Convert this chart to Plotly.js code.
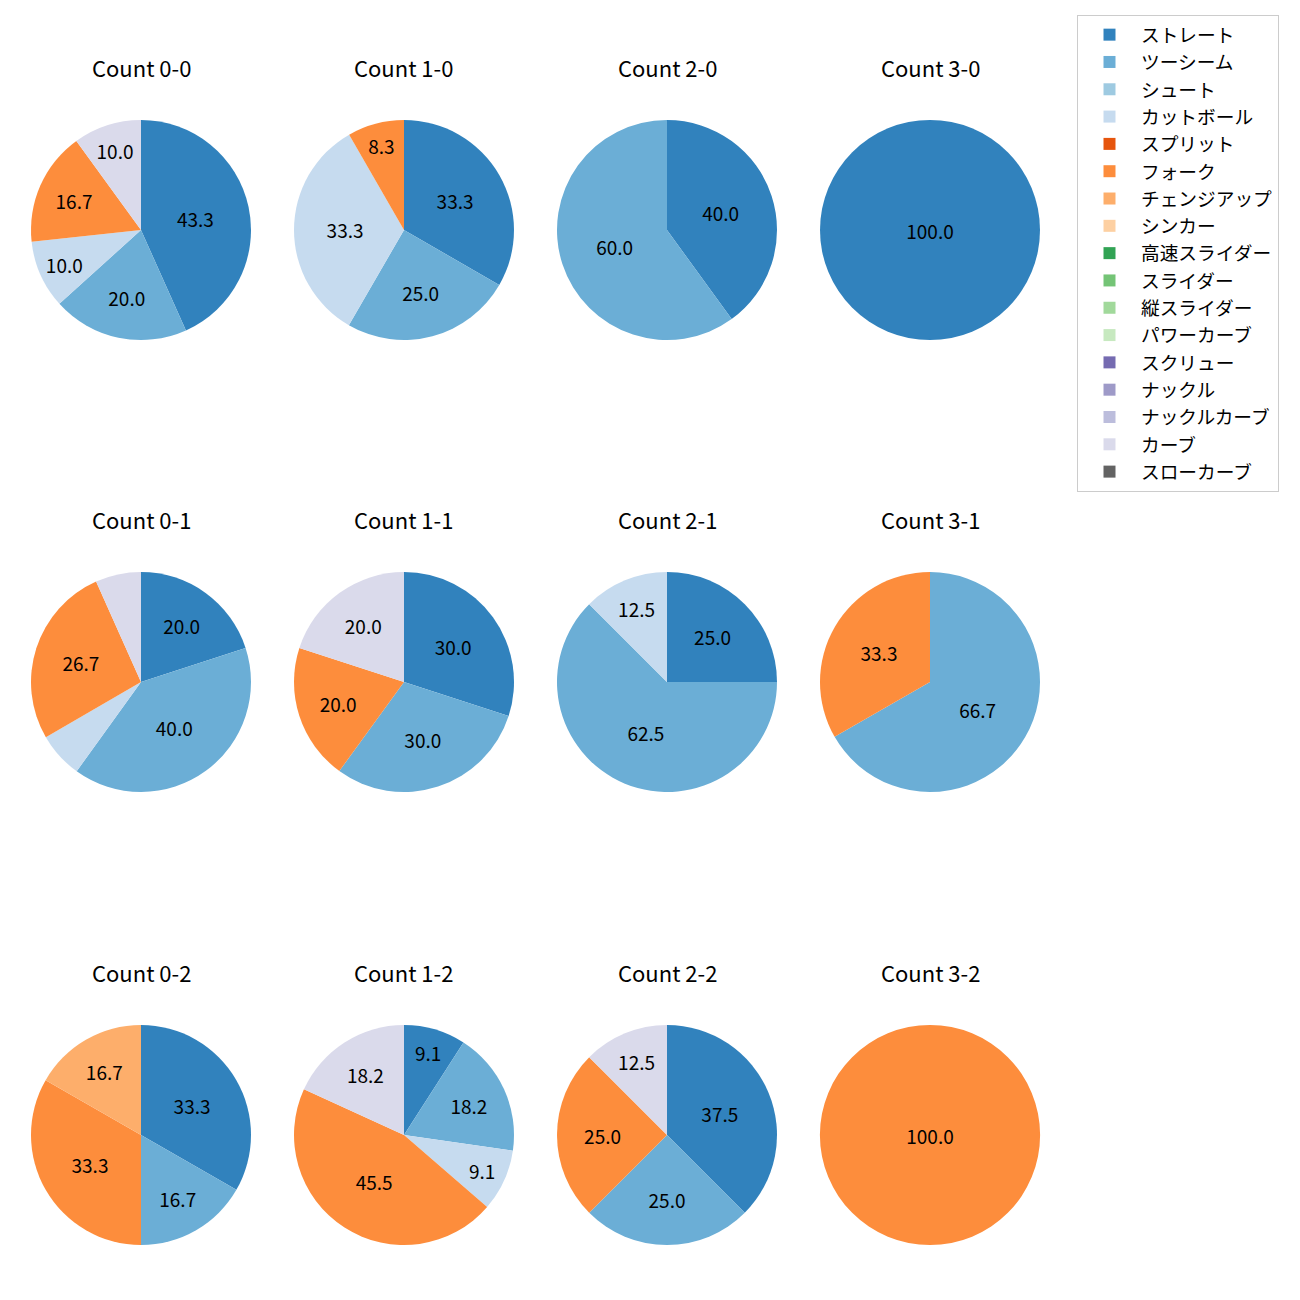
<!DOCTYPE html>
<html>
<head>
<meta charset="utf-8">
<script src="https://cdn.plot.ly/plotly-3.0.1.min.js"></script>
<style>html,body{margin:0;padding:0;background:#fff;}#chart{width:1300px;height:1300px;}</style>
</head>
<body>
<div id="chart"></div>
<script>
// Pitch types (legend order)
const pitchTypes = ['ストレート','ツーシーム','シュート','カットボール','スプリット','フォーク','チェンジアップ','シンカー','高速スライダー','スライダー','縦スライダー','パワーカーブ','スクリュー','ナックル','ナックルカーブ','カーブ','スローカーブ'];
const pitchColors = ['#3182bd','#6baed6','#9ecae1','#c6dbef','#e6550d','#fd8d3c','#fdae6b','#fdd0a2','#31a354','#74c476','#a1d99b','#c7e9c0','#756bb1','#9e9ac8','#bcbddc','#dadaeb','#636363'];

// Panel titles (row-major: strikes 0..2, balls 0..3)
const countTitles = ['Count 0-0','Count 1-0','Count 2-0','Count 3-0',
                     'Count 0-1','Count 1-1','Count 2-1','Count 3-1',
                     'Count 0-2','Count 1-2','Count 2-2','Count 3-2'];

// Percent share per pitch type, same order as pitchTypes
const c00 = [43.3,20.0,0,10.0,0,16.7,0,0,0,0,0,0,0,0,0,10.0,0];
const c10 = [33.3,25.0,0,33.3,0,8.3,0,0,0,0,0,0,0,0,0,0,0];
const c20 = [40.0,60.0,0,0,0,0,0,0,0,0,0,0,0,0,0,0,0];
const c30 = [100.0,0,0,0,0,0,0,0,0,0,0,0,0,0,0,0,0];
const c01 = [20.0,40.0,0,6.7,0,26.7,0,0,0,0,0,0,0,0,0,6.7,0];
const c11 = [30.0,30.0,0,0,0,20.0,0,0,0,0,0,0,0,0,0,20.0,0];
const c21 = [25.0,62.5,0,12.5,0,0,0,0,0,0,0,0,0,0,0,0,0];
const c31 = [0,66.7,0,0,0,33.3,0,0,0,0,0,0,0,0,0,0,0];
const c02 = [33.3,16.7,0,0,0,33.3,16.7,0,0,0,0,0,0,0,0,0,0];
const c12 = [9.1,18.2,0,9.1,0,45.5,0,0,0,0,0,0,0,0,0,18.2,0];
const c22 = [37.5,25.0,0,0,0,25.0,0,0,0,0,0,0,0,0,0,12.5,0];
const c32 = [0,0,0,0,0,100.0,0,0,0,0,0,0,0,0,0,0,0];
const panels = [c00,c10,c20,c30,c01,c11,c21,c31,c02,c12,c22,c32];

const W = 1300, H = 1300;
const colCenters = [141, 404, 667, 930];
const rowCenters = [230, 682, 1135];
const R = 110;
const FONT = '"Noto Sans CJK JP", "Noto Sans", sans-serif';

const traces = [];
const annotations = [];
panels.forEach((vals, i) => {
  const r = Math.floor(i / 4), c = i % 4;
  const cx = colCenters[c], cy = rowCenters[r];
  traces.push({
    type: 'pie',
    labels: pitchTypes,
    values: vals,
    text: vals.map(v => v >= 7.5 ? v.toFixed(1) : ''),
    textinfo: 'text',
    textposition: 'inside',
    insidetextorientation: 'horizontal',
    textfont: {family: FONT, size: 19, color: '#000'},
    sort: false,
    direction: 'clockwise',
    rotation: 0,
    marker: {colors: pitchColors, line: {width: 0}},
    domain: {x: [(cx - R) / W, (cx + R) / W], y: [1 - (cy + R) / H, 1 - (cy - R) / H]},
    showlegend: i === 0,
    hoverinfo: 'label+text'
  });
  annotations.push({
    text: countTitles[i], xref: 'paper', yref: 'paper',
    x: cx / W, y: 1 - (cy - 163) / H, xanchor: 'center', yanchor: 'middle',
    showarrow: false, font: {family: FONT, size: 22, color: '#000'}
  });
});

const layout = {
  width: W, height: H,
  margin: {l: 0, r: 0, t: 0, b: 0},
  paper_bgcolor: '#fff',
  font: {family: FONT, color: '#000'},
  showlegend: true,
  uniformtext: {mode: 'show', minsize: 19},
  legend: {
    x: 1077 / W, y: 1 - 15 / H, xanchor: 'left', yanchor: 'top',
    bordercolor: '#cccccc', borderwidth: 1, bgcolor: '#fff',
    font: {family: FONT, size: 18.7, color: '#000'},
    itemwidth: 53,
    traceorder: 'normal'
  },
  annotations: annotations
};

Plotly.newPlot('chart', traces, layout, {displayModeBar: false});
</script>
</body>
</html>
